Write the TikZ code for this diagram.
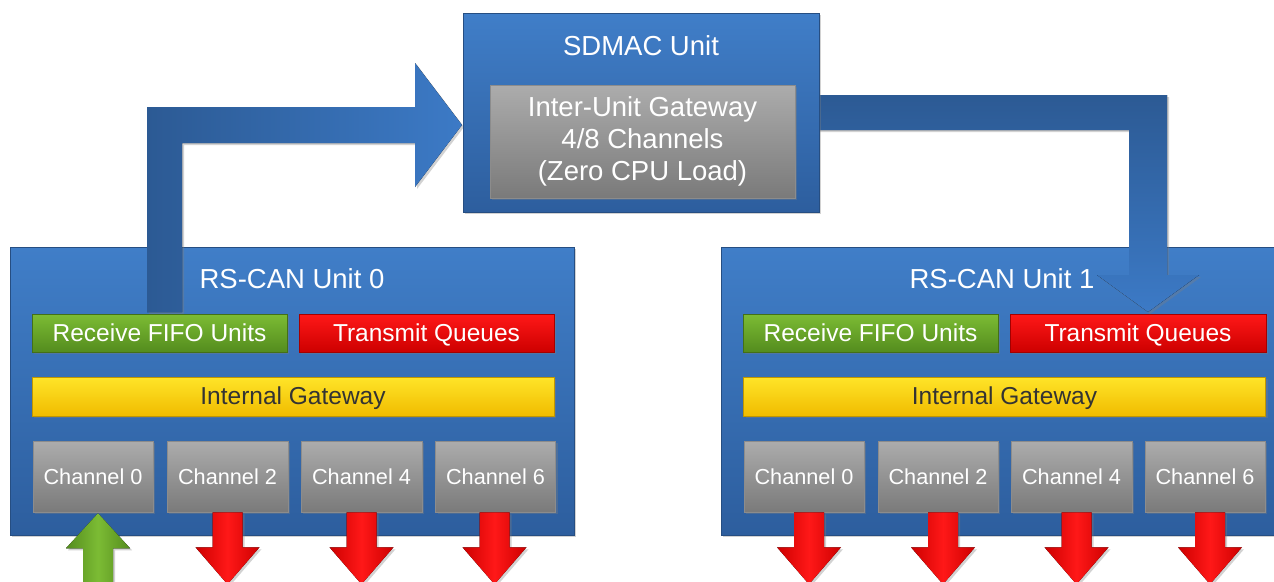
\documentclass[tikz,border=0pt]{standalone}
\usepackage{fontspec}
\setmainfont{Liberation Sans}
\usetikzlibrary{shadows,calc}
\definecolor{ublueT}{RGB}{64,126,200}
\definecolor{ublueB}{RGB}{45,94,158}
\definecolor{ublueD}{RGB}{38,78,130}
\definecolor{grayT}{RGB}{172,172,172}
\definecolor{grayB}{RGB}{122,122,122}
\definecolor{greenT}{RGB}{124,188,52}
\definecolor{greenB}{RGB}{84,140,30}
\definecolor{redT}{RGB}{255,24,24}
\definecolor{redB}{RGB}{205,0,0}
\definecolor{yelT}{RGB}{255,228,40}
\definecolor{yelB}{RGB}{240,188,0}
\definecolor{arrD}{RGB}{44,90,148}
\definecolor{arrL}{RGB}{60,122,198}
\begin{document}
\begin{tikzpicture}[x=1pt,y=-1pt,
  shad/.style={drop shadow={opacity=0.35,shadow xshift=2pt,shadow yshift=-2pt}},
  unitbox/.style={rectangle,inner sep=0pt,top color=ublueT,bottom color=ublueB,draw=ublueD,line width=0.6pt,shad},
  graybox/.style={rectangle,inner sep=0pt,top color=grayT,bottom color=grayB,draw=black!45,line width=0.5pt,text=white,shad},
  barfont/.style={font=\fontsize{24.5}{27}\selectfont,text height=17.5pt,text depth=1pt},
  greenbox/.style={rectangle,inner sep=0pt,top color=greenT,bottom color=greenB,draw=greenB!80!black,line width=0.5pt,text=white,shad,barfont},
  redbox/.style={rectangle,inner sep=0pt,top color=redT,bottom color=redB,draw=redB!80!black,line width=0.5pt,text=white,shad,barfont},
  yelbox/.style={rectangle,inner sep=0pt,top color=yelT,bottom color=yelB,draw=yelB!80!black,line width=0.5pt,text=black!80,shad,barfont},
  chbox/.style={graybox,minimum height=71pt,font=\fontsize{21.7}{24}\selectfont,text height=15.5pt,text depth=0.5pt},
  title/.style={text=white,inner sep=0pt,font=\fontsize{27.5}{30}\selectfont},
  pics/redarrow/.style={code={
    \fill[left color=redB,right color=redB,middle color=redT,shad]
      (-15,0) -- (15,0) -- (15,35) -- (32,35) -- (0,72) -- (-32,35) -- (-15,35) -- cycle;}},
  pics/greenarrow/.style={code={
    \fill[left color=greenB,right color=greenB,middle color=greenT,shad]
      (0,1) -- (32,36) -- (15,36) -- (15,80) -- (-15,80) -- (-15,36) -- (-32,36) -- cycle;}}
]
\useasboundingbox (0,0) rectangle (1274,581);
\fill[white] (0,0) rectangle (1274,581);

% RS-CAN units
\node[unitbox,minimum width=564pt,minimum height=288pt] (unit0) at (292,391) {};
\node[title] (unit0t) at (292,279) {RS-CAN Unit 0};
\node[unitbox,minimum width=564pt,minimum height=288pt] (unit1) at (1003,391) {};
\node[title] (unit1t) at (1002,279) {RS-CAN Unit 1};

% left bent arrow (Receive FIFO -> SDMAC)
\fill[left color=arrD,right color=arrL,shad]
  (147,312) -- (147,107) -- (415,107) -- (415,63) -- (462,125) -- (415,187) -- (415,143) -- (182,143) -- (182,312) -- cycle;

% right bent arrow (SDMAC -> Transmit Queues of unit 1)
\fill[top color=arrD,bottom color=arrL,shad]
  (815,95) -- (1167,95) -- (1167,275) -- (1199,275) -- (1148,312) -- (1097,275) -- (1129,275) -- (1129,130) -- (815,130) -- cycle;

% SDMAC
\node[unitbox,minimum width=356pt,minimum height=199pt] (sdmac) at (641,112.5) {};
\node[title] (sdmact) at (641,46) {SDMAC Unit};
\node[graybox,minimum width=305pt,minimum height=113pt,align=center,
      font=\fontsize{27.5}{32}\selectfont] (gw) at (642.5,141.5)
  {Inter-Unit Gateway\\4/8 Channels\\(Zero CPU Load)};

% unit 0 contents
\node[greenbox,minimum width=255pt,minimum height=38pt] (fifo0) at (159.5,333) {Receive FIFO Units};
\node[redbox,minimum width=255pt,minimum height=38pt] (tq0) at (426.5,333) {Transmit Queues};
\node[yelbox,minimum width=522pt,minimum height=39pt] (igw0) at (293,396.5) {Internal Gateway};
\node[chbox,minimum width=120pt] (ch00) at (93,476.5) {Channel 0};
\node[chbox,minimum width=121pt] (ch02) at (227.5,476.5) {Channel 2};
\node[chbox,minimum width=121pt] (ch04) at (361.5,476.5) {Channel 4};
\node[chbox,minimum width=120pt] (ch06) at (495.5,476.5) {Channel 6};

% unit 1 contents
\node[greenbox,minimum width=255pt,minimum height=38pt] (fifo1) at (870.5,333) {Receive FIFO Units};
\node[redbox,minimum width=256pt,minimum height=38pt] (tq1) at (1138,333) {Transmit Queues};
\node[yelbox,minimum width=522pt,minimum height=39pt] (igw1) at (1004.5,396.5) {Internal Gateway};
\node[chbox,minimum width=120pt] (ch10) at (804,476.5) {Channel 0};
\node[chbox,minimum width=120pt] (ch12) at (938,476.5) {Channel 2};
\node[chbox,minimum width=121pt] (ch14) at (1071.5,476.5) {Channel 4};
\node[chbox,minimum width=120pt] (ch16) at (1205,476.5) {Channel 6};

% bottom arrows
\pic at ($(ch00.south)+(5,0)$) {greenarrow};
\pic at ($(ch02.south)+(0,0)$) {redarrow};
\pic at ($(ch04.south)+(0,0)$) {redarrow};
\pic at ($(ch06.south)+(-1,0)$) {redarrow};
\pic at ($(ch10.south)+(5,0)$) {redarrow};
\pic at ($(ch12.south)+(5,0)$) {redarrow};
\pic at ($(ch14.south)+(5,0)$) {redarrow};
\pic at ($(ch16.south)+(5,0)$) {redarrow};
\end{tikzpicture}
\end{document}
